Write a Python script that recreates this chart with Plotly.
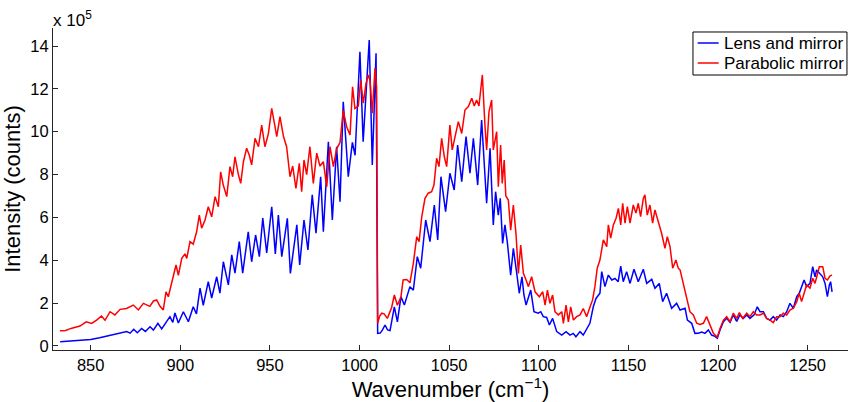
import plotly.graph_objects as go

SCALE = 1e5  # values below are in units of 10^5 counts

# Lens and mirror (blue)
lens_x = [833.0, 838.0, 844.0, 850.0, 855.0, 860.8, 865.0, 868.0, 870.1, 872.0, 874.0, 876.0,
          878.4, 880.5, 883.1, 885.0, 887.5, 889.6, 892.0, 894.2, 895.8, 897.0, 898.9, 901.7,
          904.5, 907.2, 909.0, 911.0, 912.8, 915.6, 917.5, 920.3, 922.1, 924.0, 926.8, 928.7,
          930.5, 932.9, 934.8, 937.9, 939.8, 942.0, 944.1, 946.0, 948.2, 951.0, 953.0, 954.7,
          956.6, 959.7, 961.4, 965.0, 966.6, 969.0, 971.2, 973.6, 975.7, 978.3, 979.8, 982.6,
          984.8, 987.2, 989.1, 990.9, 993.7, 996.0, 997.5, 1000.2, 1002.0,
          1005.4, 1007.1, 1009.2, 1010.1, 1011.5, 1012.8, 1014.2, 1015.6, 1017.0, 1019.4, 1021.1,
          1023.1, 1025.0, 1028.1, 1030.0, 1032.2, 1034.1, 1036.9, 1039.3, 1041.7, 1043.6, 1045.4,
          1048.0, 1050.4, 1052.8, 1054.7, 1057.0, 1059.4, 1061.6, 1063.5, 1065.9, 1068.1, 1070.9,
          1072.8, 1074.6, 1075.9, 1077.4, 1078.5, 1079.8, 1081.1, 1082.4, 1084.3, 1085.8, 1087.7,
          1089.1, 1090.6, 1091.7, 1092.9, 1095.5, 1097.3, 1099.7, 1101.1, 1102.5, 1104.4, 1105.9,
          1107.7, 1110.0, 1112.8, 1115.2, 1117.4, 1119.2, 1120.7, 1123.0, 1124.8, 1126.7, 1128.5,
          1130.4, 1131.9, 1134.1, 1135.1, 1136.9, 1138.8, 1140.7, 1142.5, 1144.3, 1145.7, 1147.1,
          1149.0, 1150.9, 1153.1, 1155.5, 1158.3, 1160.2, 1163.0, 1164.8, 1167.2, 1169.1, 1171.3,
          1174.1, 1176.9, 1178.8, 1181.6, 1182.9, 1185.3, 1187.1, 1189.0, 1190.9, 1192.7, 1194.6,
          1196.4, 1198.3, 1199.6, 1201.1, 1203.0, 1204.8, 1206.7, 1208.5, 1210.4, 1212.2, 1214.1,
          1216.0, 1217.8, 1220.1, 1221.9, 1223.4, 1225.3, 1227.1, 1229.0, 1230.8, 1232.7, 1234.6,
          1236.4, 1238.3, 1240.1, 1242.0, 1243.9, 1245.3, 1246.6, 1248.0, 1249.4, 1251.3, 1252.8,
          1254.1, 1255.0, 1256.5, 1258.4, 1259.7, 1261.0, 1262.1, 1262.8, 1263.6]
lens_y = [0.20, 0.22, 0.27, 0.30, 0.38, 0.50, 0.58, 0.62, 0.67, 0.60, 0.78, 0.62,
          0.82, 0.68, 0.90, 0.74, 1.06, 0.80, 1.13, 1.37, 1.10, 1.54, 1.07, 1.60,
          1.13, 1.83, 1.50, 2.70, 1.90, 3.00, 2.24, 3.23, 2.47, 3.93, 2.85, 4.25,
          3.40, 4.87, 3.40, 5.33, 3.93, 5.18, 4.17, 5.97, 4.34, 6.50, 4.30, 6.11,
          4.17, 5.96, 3.39, 5.65, 3.78, 5.88, 4.48, 7.05, 5.27, 7.90, 5.33, 9.53,
          5.88, 9.30, 6.73, 11.40, 7.90, 9.50, 8.90, 13.73, 9.53,
          14.28, 8.45, 13.66, 0.59, 0.60, 0.75, 0.98, 0.75, 0.72, 1.83, 1.13,
          2.30, 1.91, 2.77, 2.60, 4.17, 3.63, 5.88, 4.87, 6.58, 4.95, 7.90,
          6.27, 8.06, 7.28, 9.38, 7.67, 9.77, 8.06, 9.69, 7.51, 10.55, 6.66,
          9.23, 5.65, 7.20, 6.11, 6.89, 4.79, 5.65, 4.87, 3.31, 4.56, 3.39,
          2.46, 3.23, 2.38, 1.91, 2.61, 1.60, 1.53, 1.60, 1.37, 1.33, 0.98,
          1.29, 0.67, 0.51, 0.67, 0.51, 0.59, 0.43, 0.67, 0.51, 0.82, 1.06,
          1.83, 2.22, 2.46, 3.47, 2.77, 3.31, 3.08, 3.15, 3.00, 3.73, 3.00,
          3.47, 2.92, 3.58, 3.00, 3.58, 2.92, 3.11, 2.69, 2.92, 2.07, 2.46,
          1.76, 1.99, 1.68, 1.76, 1.21, 1.06, 0.59, 0.60, 0.65, 0.59, 0.75,
          0.51, 0.45, 0.36, 0.75, 1.13, 1.29, 1.10, 1.45, 1.15, 1.45, 1.29,
          1.45, 1.29, 1.45, 1.83, 1.60, 1.60, 1.29, 1.21, 1.37, 1.21, 1.45,
          1.37, 1.60, 1.99, 1.76, 2.30, 2.46, 2.77, 3.08, 2.77, 2.92, 3.70,
          3.23, 3.55, 3.39, 3.23, 2.92, 2.30, 2.85, 3.00, 2.53]

# Parabolic mirror (red)
para_x = [832.9, 836.0, 839.0, 844.0, 847.5, 850.5, 853.3, 856.0, 858.0, 860.8, 863.5, 866.4,
          870.0, 873.8, 876.6, 879.4, 883.0, 885.0, 886.8, 888.7, 890.5, 892.0, 893.3, 894.6,
          896.1, 897.6, 898.9, 900.8, 902.6, 903.6, 905.4, 907.2, 909.1, 910.6, 911.9, 913.8,
          915.6, 917.5, 919.4, 921.2, 922.5, 924.0, 925.9, 927.7, 929.2, 930.5, 932.4, 933.7,
          935.2, 937.0, 938.5, 939.8, 941.7, 943.6, 945.4, 947.2, 949.1, 951.0, 952.9, 953.8,
          955.6, 957.5, 959.3, 961.2, 962.7, 964.5, 966.4, 967.7, 969.0, 970.5, 972.3, 974.2,
          976.1, 977.9, 979.8, 981.7, 983.5, 985.4, 987.2, 989.1, 990.9, 992.8, 994.7, 996.1,
          997.4, 999.3, 1000.6, 1002.1, 1003.6, 1004.9, 1005.8, 1007.1, 1008.6, 1009.5, 1010.1,
          1011.2, 1012.4, 1013.7, 1015.5, 1017.9, 1019.4, 1021.1, 1023.1, 1024.3, 1026.3, 1028.1,
          1030.0, 1031.9, 1033.2, 1034.7, 1036.5, 1038.3, 1040.2, 1041.5, 1043.0, 1044.3, 1045.8,
          1047.3, 1048.6, 1050.4, 1051.7, 1053.2, 1055.1, 1057.0, 1058.8, 1060.7, 1062.6, 1064.0,
          1065.3, 1066.6, 1068.5, 1070.0, 1070.9, 1072.2, 1073.7, 1074.6, 1076.5, 1077.4, 1078.7,
          1079.6, 1080.7, 1081.6, 1083.0, 1084.3, 1085.8, 1087.3, 1088.6, 1089.9, 1091.4, 1092.9,
          1094.2, 1096.0, 1097.9, 1100.3, 1102.2, 1103.5, 1104.8, 1106.2, 1107.7, 1109.0, 1110.9,
          1112.8, 1113.7, 1115.2, 1116.5, 1117.8, 1119.3, 1121.1, 1123.0, 1124.8, 1126.7, 1128.6,
          1130.0, 1131.3, 1132.6, 1134.1, 1136.0, 1137.9, 1138.8, 1140.1, 1141.6, 1143.1, 1144.4,
          1145.7, 1146.8, 1148.1, 1149.4, 1150.9, 1152.7, 1154.2, 1155.5, 1156.8, 1158.3, 1159.2,
          1160.5, 1162.0, 1163.5, 1164.8, 1166.7, 1168.5, 1170.4, 1171.7, 1173.2, 1174.7, 1176.5,
          1177.8, 1178.8, 1180.6, 1182.5, 1184.3, 1186.2, 1188.1, 1189.9, 1191.8, 1193.6, 1195.5,
          1197.4, 1199.6, 1201.1, 1203.0, 1204.8, 1206.7, 1208.5, 1210.4, 1211.9, 1213.7, 1216.0,
          1217.8, 1219.7, 1221.5, 1223.4, 1225.3, 1227.1, 1229.0, 1230.8, 1232.7, 1234.6, 1236.4,
          1238.3, 1240.1, 1242.0, 1243.9, 1245.3, 1246.6, 1248.0, 1249.4, 1251.3, 1252.8, 1254.1,
          1255.4, 1256.5, 1258.4, 1259.7, 1261.0, 1262.5, 1263.6]
para_y = [0.71, 0.72, 0.82, 0.93, 1.13, 1.05, 1.21, 1.40, 1.20, 1.60, 1.45, 1.71,
          1.75, 1.91, 1.68, 1.99, 1.85, 2.10, 2.15, 1.85, 1.68, 2.53, 2.30, 2.77,
          3.39, 3.78, 3.30, 4.09, 4.30, 4.09, 4.87, 4.75, 5.33, 6.11, 5.50, 5.88,
          6.50, 6.03, 6.97, 6.50, 8.13, 7.50, 6.97, 8.37, 7.90, 8.83, 8.00, 7.59,
          8.60, 9.23, 8.90, 8.45, 9.69, 9.30, 10.31, 9.30, 9.90, 11.09, 10.20, 9.77,
          10.70, 9.80, 9.30, 7.90, 8.40, 7.36, 8.52, 7.20, 8.68, 8.00, 9.30, 7.59,
          9.00, 8.40, 8.60, 7.43, 9.30, 8.37, 9.20, 9.50, 11.00, 10.23, 9.85, 12.10,
          11.09, 11.20, 12.40, 11.33, 12.26, 12.65, 12.40, 10.86, 12.96, 12.10, 1.06,
          1.40, 1.53, 1.50, 1.29, 1.80, 2.38, 1.90, 2.30, 3.08, 3.10, 2.95,
          3.86, 5.10, 4.87, 6.03, 6.89, 7.13, 7.20, 7.51, 8.76, 8.37, 9.69,
          8.83, 8.37, 10.31, 9.15, 9.77, 10.47, 9.92, 11.01, 11.17, 11.56, 11.20,
          11.48, 11.20, 12.65, 10.23, 9.15, 10.93, 11.48, 9.15, 10.00, 7.43, 9.38,
          7.59, 8.68, 7.00, 6.81, 5.41, 6.58, 5.20, 3.39, 4.71, 3.39, 3.08,
          2.77, 3.23, 2.53, 2.30, 2.53, 1.91, 2.61, 1.99, 2.38, 1.60, 1.45,
          1.60, 1.06, 1.91, 1.13, 1.83, 1.21, 1.37, 1.45, 1.75, 1.37, 1.83,
          2.15, 2.77, 3.63, 4.01, 4.95, 4.64, 5.65, 5.03, 5.65, 5.96, 6.42,
          5.65, 6.66, 5.73, 6.50, 5.73, 6.58, 6.20, 6.66, 6.04, 6.89, 7.05,
          6.11, 6.58, 5.73, 6.35, 5.81, 5.26, 4.56, 5.10, 4.64, 3.63, 4.01,
          3.63, 3.55, 2.92, 2.30, 1.60, 1.45, 1.06, 1.00, 1.06, 1.37, 1.00,
          0.59, 0.41, 0.82, 1.21, 1.37, 1.13, 1.53, 1.29, 1.56, 1.29, 1.53,
          1.37, 1.60, 1.45, 1.45, 1.53, 1.29, 1.21, 1.09, 1.37, 1.37, 1.53,
          1.45, 1.68, 1.76, 2.07, 2.46, 2.07, 2.53, 2.85, 2.70, 3.16, 2.92,
          3.39, 3.70, 3.70, 3.16, 3.08, 3.27, 3.31]

x_ticks = [850, 900, 950, 1000, 1050, 1100, 1150, 1200, 1250]
y_ticks = [0, 2, 4, 6, 8, 10, 12, 14]
series_names = ["Lens and mirror", "Parabolic mirror"]
series_colors = ["#0000FF", "#FF0000"]

FONT = "Liberation Sans, Arial, Helvetica, sans-serif"
AXIS_COLOR = "#262626"

fig = go.Figure()
fig.add_trace(go.Scatter(x=lens_x, y=[v * SCALE for v in lens_y], mode="lines",
                         name=series_names[0], line=dict(color=series_colors[0], width=1.5)))
fig.add_trace(go.Scatter(x=para_x, y=[v * SCALE for v in para_y], mode="lines",
                         name=series_names[1], line=dict(color=series_colors[1], width=1.5)))

fig.update_layout(
    width=848, height=402,
    margin=dict(l=53, r=0, t=28, b=52),
    plot_bgcolor="white", paper_bgcolor="white",
    font=dict(family=FONT, size=16, color="black"),
    showlegend=False,
    xaxis=dict(range=[828.97, 1272.5], tickvals=x_ticks,
               ticktext=[str(t) for t in x_ticks],
               ticks="inside", ticklen=5, tickcolor=AXIS_COLOR,
               showline=True, linecolor=AXIS_COLOR, linewidth=1,
               showgrid=False, zeroline=False,
               tickfont=dict(size=16.5),
               title=dict(text="Wavenumber (cm<sup>\u22121</sup>)", font=dict(size=22), standoff=3)),
    yaxis=dict(range=[-0.187e5, 14.84e5], tickvals=[t * SCALE for t in y_ticks],
               ticktext=[str(t) for t in y_ticks],
               ticks="inside", ticklen=5, tickcolor=AXIS_COLOR,
               showline=True, linecolor=AXIS_COLOR, linewidth=1,
               showgrid=False, zeroline=False,
               tickfont=dict(size=16.5),
               title=dict(text="Intensity (counts)", font=dict(size=22), standoff=6)),
)

# exponent label
fig.add_annotation(text="x 10<sup>5</sup>", xref="paper", yref="paper", x=0, y=1,
                   xanchor="left", yanchor="bottom", showarrow=False,
                   font=dict(size=17, family=FONT), xshift=-2, yshift=-4)

# legend box (MATLAB-style)
fig.add_shape(type="rect", xref="paper", yref="paper", x0=0.8050, x1=0.9987, y0=0.8540, y1=0.9876,
              line=dict(color="black", width=1), fillcolor="white", layer="above")
legend_rows = [0.9534, 0.8913]
for name, color, yrow in zip(series_names, series_colors, legend_rows):
    fig.add_shape(type="line", xref="paper", yref="paper", x0=0.8109, x1=0.8373, y0=yrow, y1=yrow,
                  line=dict(color=color, width=1.5), layer="above")
    fig.add_annotation(text=name, xref="paper", yref="paper", x=0.8415, y=yrow,
                       xanchor="left", yanchor="middle", showarrow=False,
                       font=dict(size=17, family=FONT, color="black"))

fig.write_html("out.html")
